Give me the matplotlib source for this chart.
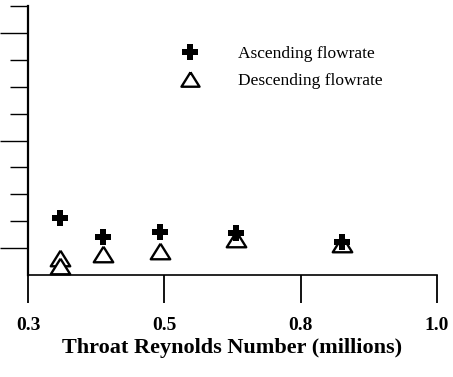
import numpy as np
import matplotlib
matplotlib.use("Agg")
import matplotlib.pyplot as plt
from matplotlib.lines import Line2D

plt.rcParams['font.family'] = ['Liberation Serif', 'DejaVu Serif']

# tick labels on the Reynolds axis (equally spaced on the printed scale)
re_ticks = [0.3, 0.5, 0.8, 1.0]
tick_labels = ["0.3", "0.5", "0.8", "1.0"]

# ascending flowrate
re_up = [0.347, 0.41, 0.494, 0.658, 0.861]
val_up = [2.12, 1.41, 1.60, 1.56, 1.23]

# descending flowrate
re_down = [0.347, 0.347, 0.41, 0.494, 0.658, 0.861]
val_down = [0.65, 0.32, 0.78, 0.89, 1.34, 1.15]

tick_pos = np.arange(len(re_ticks), dtype=float)


def fwd(v):
    return np.interp(v, re_ticks, tick_pos)


def inv(p):
    return np.interp(p, tick_pos, re_ticks)


fig = plt.figure(figsize=(4.53, 3.77), dpi=100)
ax = fig.add_axes([28 / 453, 1 - 275 / 377, (437 - 28) / 453, (275 - 6) / 377])
ax.set_xscale('function', functions=(fwd, inv))

tri = [(0, 0.8), (-1, -0.8), (1, -0.8), (0, 0.8)]

ax.plot(re_down, val_down, linestyle='none', marker=tri, markersize=14,
        markerfacecolor='white', markeredgecolor='black', markeredgewidth=1.7,
        clip_on=False, zorder=3)
ax.plot(re_up, val_up, linestyle='none', marker='P', markersize=11.5,
        color='black', markeredgewidth=0, clip_on=False, zorder=4)

ax.set_xlim(0.3, 1.0)
ax.set_ylim(0, 10)

ax.set_xticks(re_ticks)
ax.set_xticklabels(tick_labels, fontsize=14, fontweight='bold')
ax.tick_params(axis='x', direction='out', length=20, width=1.3, pad=10)

ax.set_yticks([1, 5, 9])
ax.set_yticks([2, 3, 4, 6, 7, 8, 10], minor=True)
ax.set_yticklabels([])
ax.tick_params(axis='y', which='major', direction='out', length=20, width=1.0)
ax.tick_params(axis='y', which='minor', direction='out', length=13, width=1.0)

for side in ['top', 'right']:
    ax.spines[side].set_visible(False)
ax.spines['left'].set_linewidth(1.6)
ax.spines['bottom'].set_linewidth(1.2)

ax.set_xlabel("Throat Reynolds Number (millions)", fontsize=16,
              fontweight='bold', labelpad=3)

handles = [
    Line2D([], [], linestyle='none', marker='P', markersize=11.5,
           color='black', markeredgewidth=0),
    Line2D([], [], linestyle='none', marker=tri, markersize=13,
           markerfacecolor='white', markeredgecolor='black',
           markeredgewidth=1.7),
]
ax.legend(handles, ["Ascending flowrate", "Descending flowrate"],
          loc='upper left', bbox_to_anchor=((169 - 28) / 409, 1 - 33 / 269),
          frameon=False, fontsize=12.5, handlelength=1.6,
          handletextpad=1.98, labelspacing=0.6, borderaxespad=0)

fig.savefig("out.png", dpi=100)
